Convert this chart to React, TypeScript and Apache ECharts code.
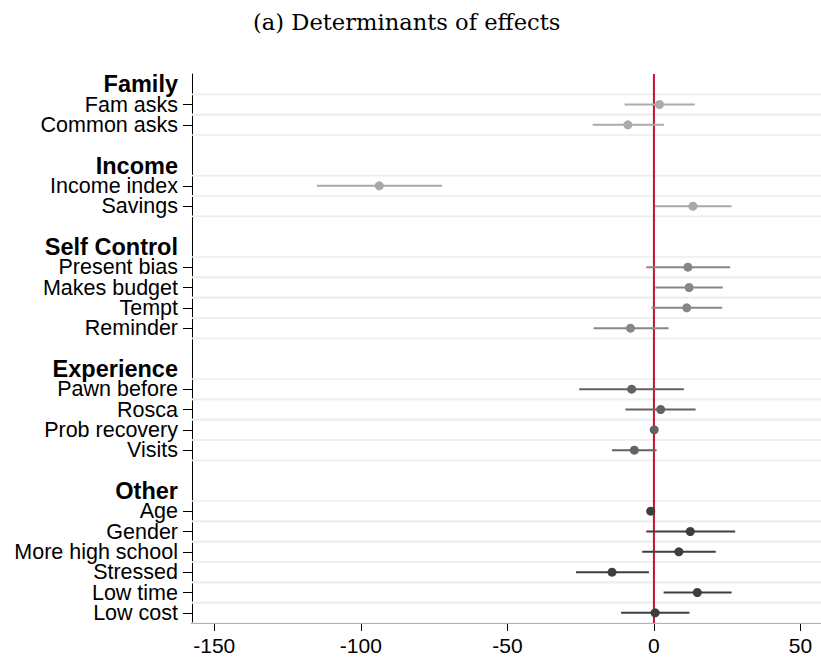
import React, { useEffect, useRef } from "react";
import * as echarts from "echarts";

// Variable groups, in display order, and the shade used for each group's estimates
const GROUPS = ["Family", "Income", "Self Control", "Experience", "Other"];
const GROUP_COLORS = ["#ababab", "#a8a8a8", "#878787", "#636363", "#3e3e3e"];

// Regressors, the group each belongs to, point estimates and confidence bounds
const VARIABLES = [
  "Fam asks", "Common asks",
  "Income index", "Savings",
  "Present bias", "Makes budget", "Tempt", "Reminder",
  "Pawn before", "Rosca", "Prob recovery", "Visits",
  "Age", "Gender", "More high school", "Stressed", "Low time", "Low cost",
];
const VARIABLE_GROUP = [0, 0, 1, 1, 2, 2, 2, 2, 3, 3, 3, 3, 4, 4, 4, 4, 4, 4];
const COEF = [1.9, -8.9, -93.7, 13.3, 11.6, 12.0, 11.2, -8.0, -7.6, 2.3, 0.1, -6.7, -1.1, 12.4, 8.5, -14.3, 14.8, 0.4];
const CI_LOW = [-10.0, -20.9, -115.0, 0.3, -2.6, 0.5, -0.8, -20.6, -25.5, -9.7, -0.2, -14.3, -1.4, -2.6, -4.0, -26.6, 3.3, -11.2];
const CI_HIGH = [13.9, 3.4, -72.3, 26.5, 26.0, 23.5, 23.3, 5.0, 10.2, 14.2, 0.4, 0.9, -0.8, 27.7, 21.1, -1.7, 26.5, 12.1];

const X_TICKS = [-150, -100, -50, 0, 50];
const ZERO_LINE = [0];
const TITLE = "(a) Determinants of effects";

// Build the row layout: gap row, bold group header, then the group's variables
const rows: string[] = [];
const varRow: number[] = [];
GROUPS.forEach((g, gi) => {
  if (gi > 0) rows.push("gap:" + gi);
  rows.push("h:" + g);
  VARIABLES.forEach((v, vi) => {
    if (VARIABLE_GROUP[vi] === gi) {
      varRow[vi] = rows.length;
      rows.push("v:" + v);
    }
  });
});

const FONT = "'Liberation Sans', Arial, Helvetica, sans-serif";

export default function App() {
  const ref = useRef<HTMLDivElement>(null);

  useEffect(() => {
    if (!ref.current) return;
    const chart = echarts.init(ref.current, undefined, { renderer: "svg" });

    const ciData = VARIABLES.map((_, i) => [CI_LOW[i], CI_HIGH[i], varRow[i], VARIABLE_GROUP[i]]);
    const pointData = VARIABLES.map((_, i) => ({
      value: [COEF[i], varRow[i]],
      itemStyle: { color: GROUP_COLORS[VARIABLE_GROUP[i]], opacity: 1 },
    }));
    const bandData = VARIABLES.map((_, i) => [0, varRow[i]]);

    chart.setOption({
      animation: false,
      backgroundColor: "#ffffff",
      title: {
        text: TITLE,
        left: 253,
        top: 10,
        padding: 0,
        textStyle: {
          fontFamily: "'DejaVu Serif', serif",
          fontWeight: "normal",
          fontSize: 22.6,
          color: "#000",
        },
      },
      grid: { left: 192, right: 0, top: 74, bottom: 37 },
      xAxis: {
        type: "value",
        min: -157.6,
        max: 57,
        splitLine: { show: false },
        axisLine: { show: true, onZero: false, lineStyle: { color: "#000", width: 1 } },
        axisTick: { show: true, length: 8, customValues: X_TICKS, lineStyle: { color: "#000", width: 1 } },
        axisLabel: {
          customValues: X_TICKS,
          fontFamily: FONT,
          fontSize: 21,
          color: "#000",
          margin: 12,
        },
      },
      yAxis: {
        type: "category",
        inverse: true,
        data: rows,
        boundaryGap: true,
        splitLine: { show: false },
        axisLine: { show: true, onZero: false, lineStyle: { color: "#000", width: 1 } },
        axisTick: {
          show: true,
          alignWithLabel: true,
          length: 9,
          interval: (_i: number, v: string) => v.startsWith("v:"),
          lineStyle: { color: "#000", width: 1 },
        },
        axisLabel: {
          interval: 0,
          margin: 14,
          color: "#000",
          fontFamily: FONT,
          formatter: (v: string) => {
            if (v.startsWith("h:")) return "{h|" + v.slice(2) + "}";
            if (v.startsWith("v:")) return "{v|" + v.slice(2) + "}";
            return "";
          },
          rich: {
            h: { fontFamily: FONT, fontWeight: "bold", fontSize: 23.5, lineHeight: 19, color: "#000" },
            v: { fontFamily: FONT, fontSize: 21.5, lineHeight: 19, color: "#000" },
          },
        },
      },
      series: [
        {
          // light rules bounding every estimate row
          type: "custom",
          z: 1,
          silent: true,
          data: bandData,
          encode: { x: 0, y: 1 },
          renderItem: (params: any, api: any) => {
            const c = api.coord([0, api.value(1)]);
            const h = api.size([0, 1])[1];
            const cs = params.coordSys;
            const mk = (y: number) => ({
              type: "line",
              shape: { x1: cs.x, y1: y, x2: cs.x + cs.width, y2: y },
              style: { stroke: "#e8eff2", lineWidth: 1.6 },
            });
            return { type: "group", children: [mk(c[1] - h / 2), mk(c[1] + h / 2)] };
          },
        },
        {
          // reference line at zero
          type: "custom",
          z: 2,
          silent: true,
          data: ZERO_LINE.map((x) => [x, 0]),
          encode: { x: 0, y: 1 },
          renderItem: (params: any, api: any) => {
            const p = api.coord([api.value(0), 0]);
            const cs = params.coordSys;
            return {
              type: "line",
              shape: { x1: p[0], y1: cs.y, x2: p[0], y2: cs.y + cs.height },
              style: { stroke: "#c8102e", lineWidth: 2 },
            };
          },
        },
        {
          // confidence intervals
          type: "custom",
          z: 3,
          silent: true,
          data: ciData,
          encode: { x: [0, 1], y: 2 },
          renderItem: (_params: any, api: any) => {
            const a = api.coord([api.value(0), api.value(2)]);
            const b = api.coord([api.value(1), api.value(2)]);
            return {
              type: "line",
              shape: { x1: a[0], y1: a[1], x2: b[0], y2: b[1] },
              style: { stroke: GROUP_COLORS[api.value(3)], lineWidth: 2 },
            };
          },
        },
        {
          // point estimates
          type: "scatter",
          z: 4,
          symbol: "circle",
          symbolSize: 9,
          itemStyle: { opacity: 1 },
          data: pointData,
        },
      ],
    });

    return () => chart.dispose();
  }, []);

  return (
    <div
      ref={ref}
      style={{ position: "fixed", left: 0, top: 0, width: 821, height: 660, background: "#fff" }}
    />
  );
}
